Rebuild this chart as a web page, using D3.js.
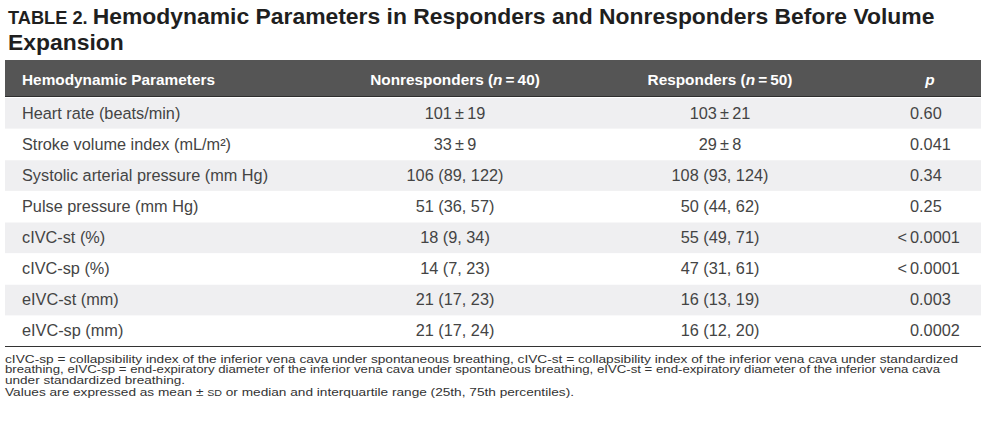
<!DOCTYPE html>
<html><head><meta charset="utf-8">
<script src="https://cdn.jsdelivr.net/npm/d3@7"></script>
<style>html,body{margin:0;padding:0;background:#fff;}svg{display:block;}</style>
</head><body>
<script>
const titleLabel = "TABLE 2.";
const titleLine1 = "Hemodynamic Parameters in Responders and Nonresponders Before Volume";
const titleLine2 = "Expansion";
const columns = ["Hemodynamic Parameters", "Nonresponders", "Responders", "p"];
const groupN = {Nonresponders: 40, Responders: 50};
const parameters = ["Heart rate (beats/min)", "Stroke volume index (mL/m²)", "Systolic arterial pressure (mm Hg)", "Pulse pressure (mm Hg)", "cIVC-st (%)", "cIVC-sp (%)", "eIVC-st (mm)", "eIVC-sp (mm)"];
const nonresponders = ["101\u2009±\u200919", "33\u2009±\u20099", "106 (89, 122)", "51 (36, 57)", "18 (9, 34)", "14 (7, 23)", "21 (17, 23)", "21 (17, 24)"];
const responders = ["103\u2009±\u200921", "29\u2009±\u20098", "108 (93, 124)", "50 (44, 62)", "55 (49, 71)", "47 (31, 61)", "16 (13, 19)", "16 (12, 20)"];
const pValues = ["0.60", "0.041", "0.34", "0.25", "<0.0001", "<0.0001", "0.003", "0.0002"];
const footnoteLines = [
  "cIVC-sp = collapsibility index of the inferior vena cava under spontaneous breathing, cIVC-st = collapsibility index of the inferior vena cava under standardized",
  "breathing, eIVC-sp = end-expiratory diameter of the inferior vena cava under spontaneous breathing, eIVC-st = end-expiratory diameter of the inferior vena cava",
  "under standardized breathing."
];
const valuesNote = ["Values are expressed as mean ± ", "SD", " or median and interquartile range (25th, 75th percentiles)."];

const W = 991, H = 431;
const FONT = "'Liberation Sans', Arial, Helvetica, sans-serif";
const svg = d3.select("body").append("svg").attr("width", W).attr("height", H)
  .style("font-family", FONT);

function fit(sel, target) {
  const w = sel.node().getComputedTextLength();
  const fs = parseFloat(sel.attr("font-size"));
  const nf = fs * target / w;
  sel.attr("font-size", nf);
  return nf;
}

// Title
const t1 = svg.append("text").attr("x", 8).attr("y", 24).attr("font-size", 22)
  .attr("font-weight", "bold").attr("fill", "#1f1f1f");
t1.append("tspan").attr("font-size", 17.5).text(titleLabel + " ");
t1.append("tspan").attr("font-size", 22).text(titleLine1);
{
  const w = t1.node().getComputedTextLength();
  const k = 927 / w;
  t1.selectAll("tspan").each(function(){ const s=d3.select(this); s.attr("font-size", parseFloat(s.attr("font-size"))*k); });
}
const titleFs = parseFloat(t1.select("tspan:nth-child(2)").attr("font-size"));
svg.append("text").attr("x", 8).attr("y", 50).attr("font-size", titleFs)
  .attr("font-weight", "bold").attr("fill", "#1f1f1f").text(titleLine2);

// Table geometry via scales
const left = 5, right = 981;
const y = d3.scaleBand().domain(parameters).range([97, 346]);
const x = d3.scaleOrdinal().domain(columns).range([22, 455, 720, 910]);
const anchor = d3.scaleOrdinal().domain(columns).range(["start", "middle", "middle", "start"]);

// Header
svg.append("rect").attr("x", left).attr("y", 60).attr("width", right - left).attr("height", 37).attr("fill", "#555555");
svg.append("line").attr("x1", left).attr("x2", right).attr("y1", 96.5).attr("y2", 96.5).attr("stroke", "#2e2e2e").attr("stroke-width", 1.2);
const hdr = svg.append("g").attr("fill", "#ffffff").attr("font-weight", "bold");
const h0 = hdr.append("text").attr("x", x(columns[0])).attr("y", 85).attr("font-size", 14).attr("text-anchor", "start").text(columns[0]);
const headFs = fit(h0, 193);
[columns[1], columns[2]].forEach(c => {
  const t = hdr.append("text").attr("x", x(c)).attr("y", 85).attr("font-size", headFs).attr("text-anchor", "middle");
  t.append("tspan").text(c + " (");
  t.append("tspan").attr("font-style", "italic").text("n");
  t.append("tspan").text("\u2009=\u2009" + groupN[c] + ")");
});
hdr.append("text").attr("x", 930).attr("y", 85).attr("font-size", headFs).attr("text-anchor", "middle").attr("font-style", "italic").text(columns[3]);

// Stripes
svg.append("g").selectAll("rect").data(parameters.filter((d, i) => i % 2 === 0)).join("rect")
  .attr("x", left).attr("width", right - left)
  .attr("y", d => y(d) + 1).attr("height", y.bandwidth() - 0.5)
  .attr("fill", "#efeff1");

// Bottom rule
svg.append("line").attr("x1", left).attr("x2", right).attr("y1", 346.5).attr("y2", 346.5).attr("stroke", "#333").attr("stroke-width", 1.2);

// Body
const bodyFs = 16.3;
const body = svg.append("g").attr("fill", "#444444").attr("font-size", bodyFs);
const rows = parameters.map((p, i) => ({p, nr: nonresponders[i], r: responders[i], pv: pValues[i]}));
const rowG = body.selectAll("g").data(rows).join("g")
  .attr("transform", d => `translate(0,${y(d.p) + y.bandwidth() / 2 + 6})`);
rowG.append("text").attr("x", x(columns[0])).attr("text-anchor", anchor(columns[0])).text(d => d.p);
rowG.append("text").attr("x", x(columns[1])).attr("text-anchor", anchor(columns[1])).text(d => d.nr);
rowG.append("text").attr("x", x(columns[2])).attr("text-anchor", anchor(columns[2])).text(d => d.r);
rowG.append("text").attr("x", x(columns[3])).attr("text-anchor", anchor(columns[3]))
  .text(d => d.pv.replace("<", ""));
rowG.filter(d => d.pv.startsWith("<")).append("text").attr("x", x(columns[3]) - 3).attr("text-anchor", "end").text("<");

// Footnotes
const fnFs = 11;
const fn = svg.append("g").attr("fill", "#333").attr("font-size", fnFs);
const fnTargets = [953, 935, 180];
fn.selectAll("text.fl").data(footnoteLines).join("text").attr("class", "fl")
  .attr("x", 5).attr("y", (d, i) => 362.5 + i * 10.5).text(d => d)
  .attr("textLength", (d, i) => fnTargets[i]).attr("lengthAdjust", "spacingAndGlyphs");
const vn = fn.append("text").attr("x", 5).attr("y", 396).attr("textLength", 569).attr("lengthAdjust", "spacingAndGlyphs");
vn.append("tspan").text(valuesNote[0]);
vn.append("tspan").attr("font-size", fnFs * 0.78).text(valuesNote[1]);
vn.append("tspan").text(valuesNote[2]);
</script>
</body></html>
